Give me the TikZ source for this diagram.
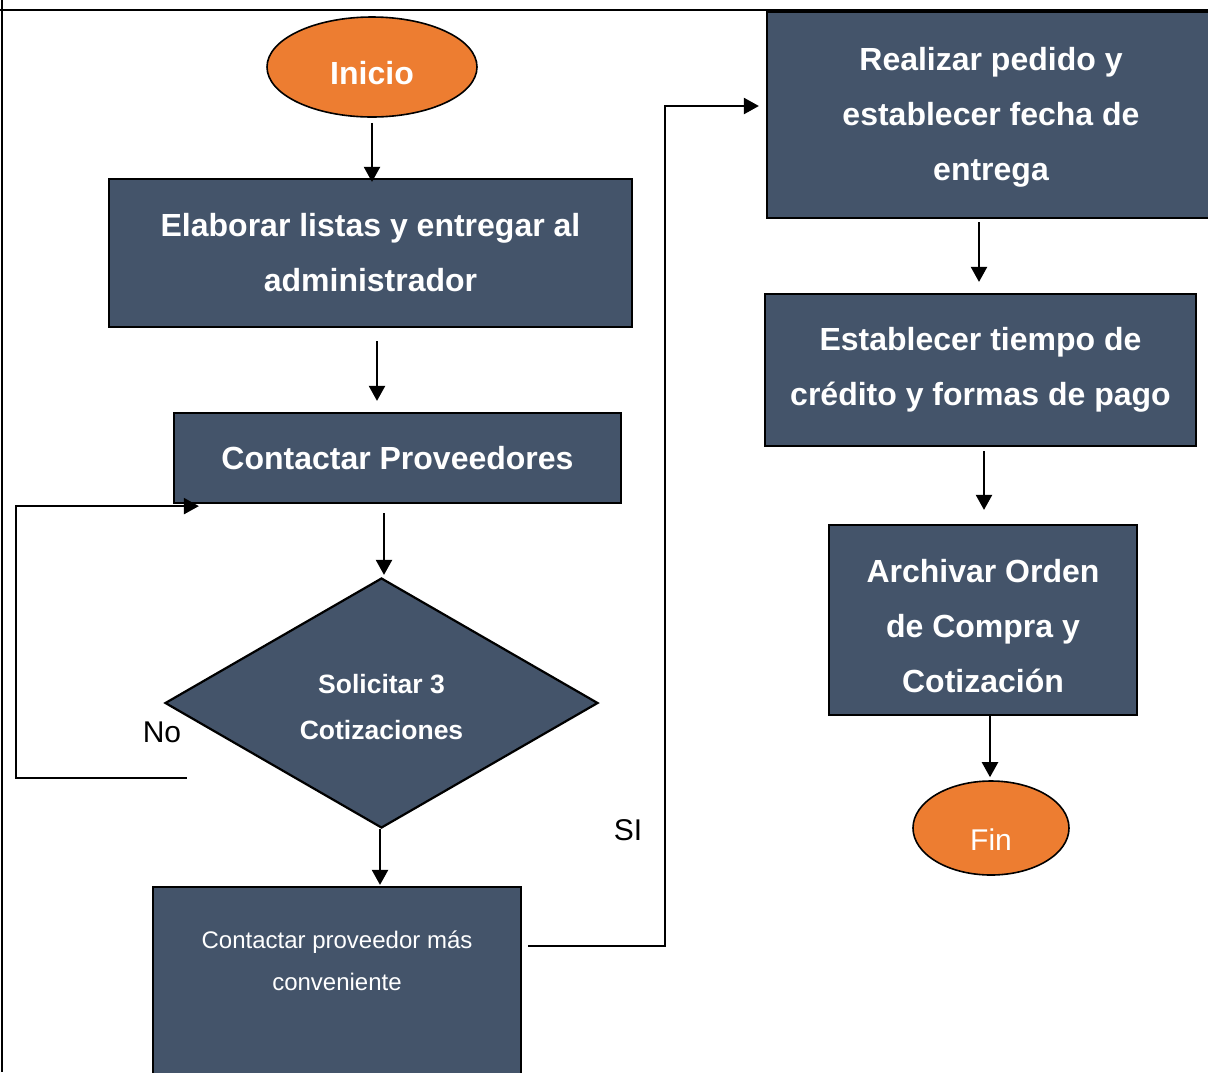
\documentclass[tikz,border=0pt]{standalone}
\usepackage{fontspec}
\setmainfont{Liberation Sans}
\usetikzlibrary{shapes.geometric,arrows.meta}
\definecolor{boxblue}{HTML}{44546A}
\definecolor{termorange}{HTML}{ED7D31}
\begin{document}
\begin{tikzpicture}[x=1pt,y=-1pt,
  frame/.style={line width=2pt},
  plainbox/.style={rectangle, draw=black, line width=2.2pt, fill=boxblue, inner sep=0pt},
  procbox/.style={plainbox, text=white, align=center,
    font=\bfseries\fontsize{32pt}{55pt}\selectfont},
  terminal/.style={ellipse, draw=black, line width=1.6pt, fill=termorange, text=white, inner sep=0pt},
  decision/.style={diamond, draw=black, line width=2.2pt, fill=boxblue, text=white, align=center,
    inner sep=0pt, font=\bfseries\fontsize{26.5pt}{46pt}\selectfont},
  arr/.style={line width=2.2pt, -{Triangle[width=16pt,length=15pt]}},
  tag/.style={font=\fontsize{30pt}{36pt}\selectfont}]

\useasboundingbox (0,0) rectangle (1208,1072);

% left column
\node[terminal, minimum width=210pt, minimum height=100pt,
  font=\bfseries\fontsize{32pt}{38pt}\selectfont, text height=35pt, text depth=0pt]
  (inicio) at (372,67) {Inicio};
\node[procbox, minimum width=523pt, minimum height=148pt] (elab) at (370.5,253)
  {Elaborar listas y entregar al\\administrador};
\node[procbox, minimum width=447pt, minimum height=90pt] (cp) at (397.5,458)
  {Contactar Proveedores};
\node[decision, minimum width=433pt, minimum height=250pt] (dia) at (381.5,703)
  {\rule{0pt}{27pt}Solicitar 3\\Cotizaciones};
\node[plainbox, minimum width=368pt, minimum height=243pt] (cpm) at (337,1008.5) {};
\node[text=white, align=center, font=\fontsize{24pt}{42pt}\selectfont] (cpmtext) at (337,961)
  {Contactar proveedor más\\conveniente};

% right column
\node[procbox, minimum width=448pt, minimum height=206pt] (real) at (991,115)
  {\rule{0pt}{28pt}Realizar pedido y\\establecer fecha de\\entrega};
\node[procbox, minimum width=431pt, minimum height=152pt] (estab) at (980.5,370)
  {Establecer tiempo de\\crédito y formas de pago};
\node[procbox, minimum width=308pt, minimum height=190pt] (arch) at (983,620)
  {\rule{0pt}{35pt}Archivar Orden\\de Compra y\\Cotización};
\node[terminal, minimum width=156pt, minimum height=94pt,
  font=\fontsize{30pt}{36pt}\selectfont, text height=45pt, text depth=0pt]
  (fin) at (991,828) {Fin};

% connectors
\draw[arr, shorten <=5pt, shorten >=-4pt] (inicio.south) -- (inicio.south |- elab.north);
\draw[arr, shorten <=13pt, shorten >=11pt] ([xshift=6.5pt]elab.south) -- ([xshift=6.5pt]elab.south |- cp.north);
\draw[arr, shorten <=9pt, shorten >=2pt] ([xshift=-13.5pt]cp.south) -- ([xshift=-13.5pt]cp.south |- dia.north);
\draw[arr, shorten >=1pt] ([xshift=-1.5pt]dia.south) -- ([xshift=-1.5pt]dia.south |- cpm.north);
\draw[arr] ([shift={(23pt,-75pt)}]dia.west) -- ++(-171,0) |- ([shift={(26pt,-2pt)}]cp.south west);
\draw[arr] ([shift={(6pt,-60pt)}]cpm.north east) -- ++(137,0) |- ([shift={(-7pt,9pt)}]real.west);
\draw[arr, shorten <=3pt, shorten >=11pt] ([xshift=-12pt]real.south) -- ([xshift=-12pt]real.south |- estab.north);
\draw[arr, shorten <=4pt, shorten >=14pt] ([xshift=3.5pt]estab.south) -- ([xshift=3.5pt]estab.south |- arch.north);
\draw[arr, shorten >=3pt] ([xshift=7pt]arch.south) -- ([xshift=7pt]arch.south |- fin.north);

% branch labels
\node[tag] (no) at (162,732) {No};
\node[tag] (si) at (628,830) {SI};

% table frame
\draw[frame] (0,10) -- (1208,10);
\draw[frame] (2,0) -- (2,1072);
\end{tikzpicture}
\end{document}
